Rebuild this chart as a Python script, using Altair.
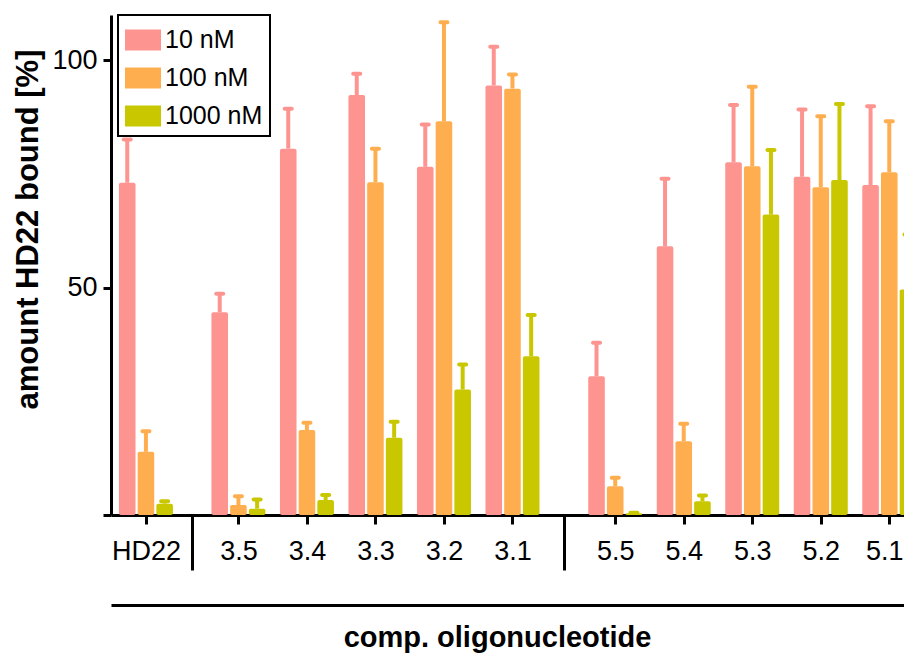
import altair as alt
import pandas as pd

# ---- data ----
categories = ["HD22", "3.5", "3.4", "3.3", "3.2", "3.1", "5.5", "5.4", "5.3", "5.2", "5.1"]
concentrations = ["10 nM", "100 nM", "1000 nM"]

mean_10 = [73.1, 44.6, 80.6, 92.4, 76.6, 94.5, 30.5, 59.1, 77.6, 74.4, 72.6]
err_10 = [9.5, 4.1, 8.8, 4.7, 9.3, 8.5, 7.4, 14.9, 12.6, 14.8, 17.3]

mean_100 = [13.9, 2.2, 18.7, 73.2, 86.6, 93.8, 6.3, 16.2, 76.7, 72.1, 75.4]
err_100 = [4.5, 1.9, 1.6, 7.4, 21.8, 3.1, 1.9, 3.9, 17.5, 15.6, 11.2]

mean_1000 = [2.5, 1.4, 3.3, 17.0, 27.6, 34.9, 0.4, 3.0, 66.1, 73.7, 49.6]
err_1000 = [0.5, 2.0, 1.1, 3.5, 5.5, 9.1, 0.1, 1.3, 14.2, 16.7, 12.1]

colors = ["#fe9490", "#ffae4f", "#c9c700"]

# ---- layout (category positions with group gaps) ----
group_sizes = [1, 5, 5]
STEP = 20
EXTRA_GAP = [7, 10]
positions = []
p = 0
for gi, n in enumerate(group_sizes):
    for _ in range(n):
        positions.append(p)
        p += STEP
    if gi < len(EXTRA_GAP):
        p += EXTRA_GAP[gi]

separators = []
idx = 0
for gi, n in enumerate(group_sizes[:-1]):
    idx += n
    separators.append((positions[idx - 1] + positions[idx]) / 2)

BAR_OFFSET = 5.46
BAR_HALF = 2.42

means = [mean_10, mean_100, mean_1000]
errs = [err_10, err_100, err_1000]
rows = []
for ci, conc in enumerate(concentrations):
    for i, cat in enumerate(categories):
        c = positions[i] + (ci - 1) * BAR_OFFSET
        rows.append({
            "cat": cat, "conc": conc, "xc": c,
            "x0": c - BAR_HALF, "x1": c + BAR_HALF,
            "value": means[ci][i], "upper": means[ci][i] + errs[ci][i],
        })
df = pd.DataFrame(rows)

FONT = "Liberation Sans"
x_scale = alt.Scale(domain=[-10.2, 221.3], nice=False, zero=False)
y_scale = alt.Scale(domain=[0, 110], nice=False)
color_scale = alt.Scale(domain=concentrations, range=colors)

label_expr = " : ".join(f"datum.value == {p} ? '{c}'" for p, c in zip(positions, categories)) + " : ''"
last_pos = positions[-1]

bars = alt.Chart(df).mark_bar(cornerRadius=2, clip=True).encode(
    x=alt.X("x0:Q", scale=x_scale, axis=alt.Axis(
        orient="bottom", values=positions, labelExpr=label_expr, title=None, grid=False,
        domainWidth=3, domainColor="black", tickWidth=3, tickSize=9, tickColor="black",
        labelFontSize=27, labelPadding=14, labelColor="black", labelFont=FONT,
        labelOffset={"condition": {"test": f"datum.value == {last_pos}", "value": -5}, "value": 0},
        labelFlush=False, labelOverlap=False)),
    x2="x1:Q",
    y=alt.Y("value:Q", scale=y_scale, axis=alt.Axis(
        values=[0, 50, 100], labelExpr="datum.value == 0 ? '' : datum.label", grid=False,
        domainWidth=3, domainColor="black", tickWidth=3, tickSize=8, tickColor="black",
        labelFontSize=27, labelPadding=6, labelColor="black", labelFont=FONT,
        title="amount HD22 bound [%]", titleFontSize=31, titleFontWeight="bold",
        titleColor="black", titleFont=FONT, titlePadding=7, titleY=214)),
    y2=alt.datum(0),
    color=alt.Color("conc:N", scale=color_scale, legend=alt.Legend(
        title=None, orient="none", legendX=7, legendY=0,
        symbolType="M-1,-0.58H1V0.58H-1Z", symbolSize=1296, symbolStrokeWidth=0,
        symbolOpacity=1, labelFontSize=25, labelFont=FONT, labelColor="black",
        labelOffset=4, padding=7, rowPadding=7, strokeColor="black")),
)

err_lines = alt.Chart(df).mark_rule(strokeWidth=4, clip=True).encode(
    x=alt.X("xc:Q", scale=x_scale, axis=None),
    y=alt.Y("value:Q", scale=y_scale),
    y2="upper:Q",
    color=alt.Color("conc:N", scale=color_scale, legend=None),
)

caps = alt.Chart(df).mark_tick(orient="horizontal", thickness=4, size=11, cornerRadius=2,
                               opacity=1, clip=True).encode(
    x=alt.X("xc:Q", scale=x_scale, axis=None),
    y=alt.Y("upper:Q", scale=y_scale),
    color=alt.Color("conc:N", scale=color_scale, legend=None),
)

sep_axis = alt.Chart(pd.DataFrame({"s": separators})).mark_point(opacity=0).encode(
    x=alt.X("s:Q", scale=x_scale, axis=alt.Axis(
        orient="bottom", values=separators, labels=False, domain=False, grid=False,
        ticks=True, tickSize=55, tickWidth=3, tickColor="black", title=None)),
)

title_axis = alt.Chart(pd.DataFrame({"s": separators})).mark_point(opacity=0).encode(
    x=alt.X("s:Q", scale=x_scale, axis=alt.Axis(
        orient="bottom", offset=90, labels=False, ticks=False, grid=False,
        domain=True, domainWidth=3, domainColor="black",
        title="comp. oligonucleotide", titleFontSize=29, titleFontWeight="bold",
        titleFont=FONT, titleColor="black", titlePadding=18, titleX=386)),
)

chart = alt.layer(bars, err_lines, caps, sep_axis, title_axis).resolve_axis(
    x="independent"
).properties(
    width=793, height=500,
    autosize=alt.AutoSizeParams(type="none"),
    padding={"left": 103, "top": 7, "right": 0, "bottom": 141},
    background="white",
).configure_view(stroke=None).configure_legend(strokeWidth=2)

chart.save("out.html", embed_options={"renderer": "svg", "actions": False})
